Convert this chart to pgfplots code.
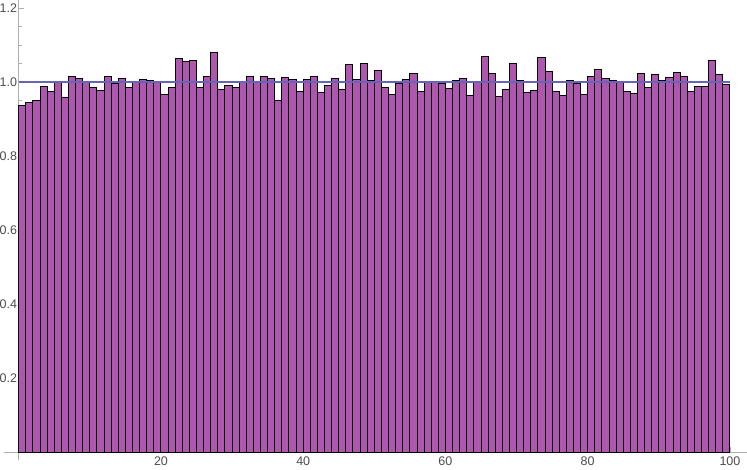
\documentclass[border=0pt]{standalone}
\usepackage{pgfplots}
\pgfplotsset{compat=1.18}
\usepackage{pgfplotstable}
\usepackage{fontspec}
\setmainfont{Liberation Sans}
\definecolor{barfill}{RGB}{174,87,174}
\definecolor{refline}{RGB}{100,100,185}
\definecolor{axgray}{RGB}{175,175,175}
\pgfplotstableread{
x y
0 0.936
1 0.944
2 0.950
3 0.989
4 0.975
5 1.000
6 0.959
7 1.014
8 1.009
9 0.998
10 0.986
11 0.977
12 1.014
13 0.996
14 1.009
15 0.986
16 0.998
17 1.007
18 1.004
19 0.998
20 0.966
21 0.986
22 1.064
23 1.055
24 1.058
25 0.986
26 1.014
27 1.080
28 0.981
29 0.992
30 0.985
31 0.999
32 1.014
33 1.000
34 1.014
35 1.009
36 0.950
37 1.013
38 1.007
39 0.975
40 1.008
41 1.014
42 0.972
43 0.990
44 1.010
45 0.981
46 1.048
47 1.007
48 1.049
49 1.005
50 1.031
51 0.985
52 0.967
53 0.995
54 1.006
55 1.023
56 0.975
57 0.998
58 1.000
59 0.996
60 0.983
61 1.003
62 1.010
63 0.965
64 1.000
65 1.069
66 1.022
67 0.962
68 0.981
69 1.049
70 1.005
71 0.971
72 0.977
73 1.067
74 1.030
75 0.974
76 0.965
77 1.003
78 0.996
79 0.967
80 1.015
81 1.034
82 1.010
83 1.005
84 0.998
85 0.975
86 0.970
87 1.024
88 0.986
89 1.021
90 1.004
91 1.013
92 1.025
93 1.014
94 0.974
95 0.988
96 0.987
97 1.058
98 1.020
99 0.994
100 0.994
}\bardata
\begin{document}
\begin{tikzpicture}
\begin{axis}[
  scale only axis,
  width=743pt, height=460pt,
  xmin=-2.07, xmax=102.4,
  ymin=-0.0216, ymax=1.222,
  axis lines=middle,
  axis line style={axgray, line width=0.6pt, -},
  tick align=inside,
  tick style={axgray, line width=0.6pt},
  major tick length=5pt,
  minor tick length=3pt,
  xtick={20,40,60,80,100},
  minor xtick={5,10,15,25,30,35,45,50,55,65,70,75,85,90,95},
  ytick={0.2,0.4,0.6,0.8,1.0,1.2},
  minor ytick={0.05,0.1,0.15,0.25,0.3,0.35,0.45,0.5,0.55,0.65,0.7,0.75,0.85,0.9,0.95,1.05,1.1,1.15},
  /pgf/number format/assume math mode=true,
  tick label style={font=\fontsize{12.5}{14}\selectfont, text=black!70, inner sep=0pt},
  yticklabel style={/pgf/number format/fixed, /pgf/number format/fixed zerofill, /pgf/number format/precision=1, xshift=-1.5pt},
  xticklabel style={yshift=-1.5pt, inner ysep=3pt},
  clip=false,
]
\addplot[ybar interval, fill=barfill, draw=black, line width=1pt] table[x=x,y=y] {\bardata};
\addplot[draw=refline, line width=1.5pt, mark=none] coordinates {(0,1) (100,1)};
\end{axis}
\pgfresetboundingbox
\path[use as bounding box] ([xshift=-4pt,yshift=-10pt]current axis.south west) rectangle (current axis.north east);
\end{tikzpicture}
\end{document}
